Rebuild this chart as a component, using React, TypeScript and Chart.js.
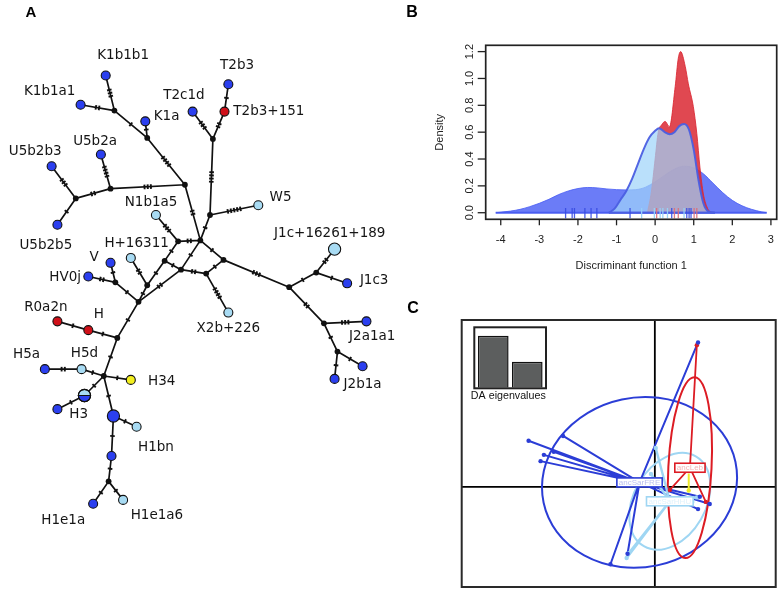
import React, { useEffect, useRef } from 'react';
import { Chart, registerables } from 'chart.js';

Chart.register(...registerables);

/* ================= Panel A : haplotype network ================= */
const NODE_IDS = [
  'K1b1b1', 'K1b1a1', 'K1a', 'T2b3', 'T2b3+151', 'T2c1d', 'U5b2a', 'U5b2b3', 'U5b2b5', 'W5',
  'N1b1a5', 'H+16311', 'V', 'HV0j', 'J1c+16261+189', 'J1c3', 'X2b+226', 'R0a2n', 'H', 'J2a1a1',
  'J2a', 'J2b1a', 'H5a', 'H5d', 'H34', 'H3', 'H3b', 'H1', 'H1bn', 'H1e1',
  'H1e1a', 'H1e1a6',
  'mv1', 'mv2', 'mv3', 'mv4', 'mv5', 'mv6', 'mv7', 'mv8', 'mv9', 'mv10',
  'mv11', 'mv12', 'mv13', 'mv14', 'mv15', 'mv16', 'mv17', 'mv18', 'mv19', 'mv20',
  'mv21', 'mv22', 'mv23',
];
const NODE_X = [
  102, 76, 143, 229, 225, 192, 97, 46, 52, 260,
  154, 128, 107, 84, 339, 352, 229, 52, 84, 372,
  368, 339, 39, 77, 128, 80, 52, 110, 134, 108,
  89, 120,
  111, 145, 184, 107, 71, 213, 210, 200, 177, 163,
  180, 145, 136, 206, 224, 292, 320, 328, 342, 112,
  114, 100, 105,
];
const NODE_Y = [
  70, 100, 117, 79, 107, 107, 151, 163, 223, 203,
  213, 257, 262, 276, 248, 283, 313, 322, 331, 322,
  368, 381, 371, 371, 382, 398, 412, 419, 430, 460,
  509, 505,
  106, 134, 182, 186, 196, 135, 213, 239, 240, 260,
  269, 285, 302, 273, 259, 287, 272, 324, 353, 282,
  339, 378, 486,
];
const NODE_TYPE = [
  'blue', 'blue', 'blue', 'blue', 'red', 'blue', 'blue', 'blue', 'blue', 'light',
  'light', 'light', 'blue', 'blue', 'light', 'blue', 'light', 'red', 'red', 'blue',
  'blue', 'blue', 'blue', 'light', 'yellow', 'split', 'blue', 'blue', 'light', 'blue',
  'blue', 'light',
  'median', 'median', 'median', 'median', 'median', 'median', 'median', 'median', 'median', 'median',
  'median', 'median', 'median', 'median', 'median', 'median', 'median', 'median', 'median', 'median',
  'median', 'median', 'median',
];
const NODE_FREQ = [
  1, 1, 1, 1, 1, 1, 1, 1, 1, 1,
  1, 1, 1, 1, 2, 1, 1, 1, 1, 1,
  1, 1, 1, 1, 1, 2, 1, 2, 1, 1,
  1, 1,
  0, 0, 0, 0, 0, 0, 0, 0, 0, 0,
  0, 0, 0, 0, 0, 0, 0, 0, 0, 0,
  0, 0, 0,
];

const EDGE_FROM = [
  'K1b1b1', 'K1b1a1', 'mv1', 'K1a', 'mv2', 'mv3', 'mv4', 'mv4', 'mv5', 'mv5',
  'mv3', 'T2b3', 'T2b3+151', 'T2c1d', 'mv6', 'mv7', 'mv7', 'mv8', 'mv9', 'mv9',
  'mv10', 'mv10', 'mv12', 'mv12', 'mv8', 'mv11', 'mv11', 'mv14', 'mv8', 'mv14',
  'mv15', 'mv16', 'mv17', 'mv17', 'mv16', 'mv18', 'mv18', 'mv19', 'mv19', 'mv20',
  'mv20', 'mv20', 'mv13', 'mv21', 'H', 'mv21', 'mv22', 'H5d', 'mv22', 'mv22',
  'H3', 'mv22', 'H1', 'H1', 'H1e1', 'mv23', 'mv23',
];
const EDGE_TO = [
  'mv1', 'mv1', 'mv2', 'mv2', 'mv3', 'mv4', 'U5b2a', 'mv5', 'U5b2b3', 'U5b2b5',
  'mv8', 'T2b3+151', 'mv6', 'mv6', 'mv7', 'W5', 'mv8', 'mv9', 'N1b1a5', 'mv10',
  'mv11', 'mv12', 'H+16311', 'mv13', 'mv11', 'mv13', 'mv14', 'mv15', 'mv15', 'X2b+226',
  'mv16', 'mv17', 'J1c+16261+189', 'J1c3', 'mv18', 'J2a1a1', 'mv19', 'J2a', 'J2b1a', 'HV0j',
  'V', 'mv13', 'mv21', 'H', 'R0a2n', 'mv22', 'H5d', 'H5a', 'H34', 'H3',
  'H3b', 'H1', 'H1bn', 'H1e1', 'mv23', 'H1e1a', 'H1e1a6',
];
const EDGE_MUT = [
  3, 2, 1, 1, 4, 3, 4, 2, 3, 1,
  2, 1, 2, 3, 4, 5, 1, 2, 3, 1,
  1, 1, 2, 1, 1, 2, 2, 1, 1, 4,
  3, 1, 2, 1, 2, 3, 1, 1, 1, 2,
  1, 1, 1, 1, 1, 1, 1, 2, 1, 1,
  1, 1, 1, 1, 1, 1, 1,
];

const LABEL_TEXT = [
  'K1b1b1', 'K1b1a1', 'K1a', 'T2b3', 'T2b3+151', 'T2c1d', 'U5b2a', 'U5b2b3', 'U5b2b5', 'W5',
  'N1b1a5', 'H+16311', 'V', 'HV0j', 'J1c+16261+189', 'J1c3', 'X2b+226', 'R0a2n', 'H', 'J2a1a1',
  'J2b1a', 'H5a', 'H5d', 'H34', 'H3', 'H1bn', 'H1e1a', 'H1e1a6',
];
// label anchor positions (layout, network coordinates)
const LABEL_X = [
  120, 44, 165, 238, 271, 183, 91, 29, 40, 283,
  149, 134, 90, 60, 334, 380, 229, 40, 95, 378,
  368, 20, 80, 160, 74, 154, 58, 155,
];
const LABEL_Y = [
  50, 86, 112, 60, 107, 91, 138, 148, 244, 195,
  200, 242, 257, 277, 232, 280, 329, 308, 315, 338,
  387, 356, 355, 384, 417, 451, 526, 521,
];

const NODE_FILL: Record<string, string> = {
  blue: '#2b3fef',
  light: '#a8dbf3',
  red: '#cf1019',
  yellow: '#f3ef1f',
  split: '#a8dbf3',
  median: '#111111',
};

/* ================= Panel B : density of discriminant function 1 ================= */
const BLUE_X = [-4.13, -3.75, -3.5, -3.25, -3.0, -2.75, -2.5, -2.25, -2.0, -1.75, -1.5, -1.25, -1.0, -0.75, -0.5, -0.25, 0, 0.25, 0.5, 0.75, 1.0, 1.25, 1.5, 1.75, 2.0, 2.25, 2.5, 2.75, 2.89];
const BLUE_Y = [0, 0.012, 0.025, 0.045, 0.07, 0.1, 0.135, 0.162, 0.18, 0.188, 0.185, 0.177, 0.172, 0.17, 0.172, 0.19, 0.23, 0.28, 0.325, 0.347, 0.335, 0.29, 0.22, 0.15, 0.092, 0.052, 0.025, 0.007, 0];
const LIGHT_X = [-1.2, -1.05, -0.9, -0.75, -0.6, -0.45, -0.3, -0.15, 0.0, 0.1, 0.25, 0.375, 0.5, 0.625, 0.75, 0.875, 1.0, 1.125, 1.25, 1.375, 1.55];
const LIGHT_Y = [0, 0.03, 0.095, 0.16, 0.25, 0.36, 0.47, 0.56, 0.61, 0.63, 0.6, 0.585, 0.6, 0.645, 0.66, 0.62, 0.47, 0.24, 0.07, 0.01, 0];
const RED_X = [-0.2, -0.1, 0.0, 0.08, 0.17, 0.26, 0.37, 0.52, 0.6, 0.66, 0.78, 0.86, 0.99, 1.08, 1.16, 1.25, 1.34, 1.42, 1.5];
const RED_Y = [0, 0.15, 0.4, 0.6, 0.655, 0.68, 0.64, 0.94, 1.15, 1.2, 1.09, 0.96, 0.79, 0.59, 0.34, 0.14, 0.045, 0.008, 0];

const RUG_BLUE = [-2.32, -2.15, -2.09, -1.82, -1.66, -1.51, -0.65, 0.43, 0.82, 0.88, 0.93];
const RUG_LIGHT = [-0.35, -0.02, 0.13, 0.2, 0.32, 0.75];
const RUG_RED = [0.04, 0.5, 0.6, 1.01, 1.08];

const DENS_X_TICKS = [-4, -3, -2, -1, 0, 1, 2, 3];
const DENS_Y_TICKS = [0, 0.2, 0.4, 0.6, 0.8, 1.0, 1.2];

/* ================= Panel C : DA scatter ================= */
const DA_GROUPS = ['ancSarFRE', 'ancSarHHU', 'ancLeb', ''];
const DA_CENT_X = [-0.51, 0.5, 1.17, 1.13];
const DA_CENT_Y = [0.15, -0.48, 0.64, 0.45];
const FRE_X = [-4.21, -3.06, -3.37, -3.7, -3.81, 1.44, -1.48, -0.91, 1.44, 1.83, 1.5];
const FRE_Y = [1.54, 1.7, 1.17, 1.07, 0.86, 4.82, -2.58, -2.23, -0.74, -0.57, -0.33];
const HHU_X = [0.03, -0.13, -0.94, -0.86, 1.25, 1.4];
const HHU_Y = [1.3, 0.43, -2.37, -2.2, -0.5, -0.35];
const LEB_X = [1.4, 0.5, 1.7];
const LEB_Y = [4.73, -0.1, -0.5];
const GRP4_X = [1.13];
const GRP4_Y = [-0.12];
const ELL_RX = [3.27, 1.73, 0.72, 0];
const ELL_RY = [2.83, 1.2, 3.02, 0];
const ELL_ANGLE = [12, 60, -3, 0];
const EIG_LABELS = ['LD1', 'LD2'];
const EIGENVALUES = [2.0, 1.0];

const DA_COLORS = ['#2b3dd6', '#9fd6f3', '#dc1c24', '#efea2c'];
const DA_TEXT = ['#b9bff0', '#dff2fc', '#f2b5b8', '#f7f4a0'];

/* ================= helpers ================= */
function nodePos(id: string) {
  const i = NODE_IDS.indexOf(id);
  return { x: NODE_X[i], y: NODE_Y[i] };
}

function ChartCanvas({ left, top, width, height, build }: any) {
  const ref = useRef<HTMLCanvasElement>(null);
  useEffect(() => {
    const chart = new Chart(ref.current as HTMLCanvasElement, build());
    return () => chart.destroy();
  }, []);
  return (
    <canvas
      ref={ref}
      width={width}
      height={height}
      style={{ position: 'absolute', left, top, width, height }}
    />
  );
}

const baseOptions = {
  responsive: false,
  animation: false,
  devicePixelRatio: 1,
  events: [],
  plugins: { legend: { display: false }, tooltip: { enabled: false }, title: { display: false } },
};

/* ---------- network ---------- */
function buildNetwork(): any {
  const edgeData: any[] = [];
  EDGE_FROM.forEach((f, i) => {
    edgeData.push(nodePos(f), nodePos(EDGE_TO[i]), { x: NaN, y: NaN });
  });
  const nodeData = NODE_IDS.map((_, i) => ({ x: NODE_X[i], y: NODE_Y[i] }));
  const radius = NODE_TYPE.map((t, i) => (t === 'median' ? 2.9 : NODE_FREQ[i] > 1 ? 6.1 : 4.5));
  const fill = NODE_TYPE.map((t) => NODE_FILL[t]);
  const bw = NODE_TYPE.map((t) => (t === 'median' ? 0 : 1.1));

  const decor = {
    id: 'networkDecor',
    afterDatasetDraw(chart: any, args: any) {
      if (chart.data.datasets[args.index].label !== 'edges') return;
      const { ctx } = chart;
      const sx = chart.scales.x, sy = chart.scales.y;
      ctx.save();
      ctx.strokeStyle = '#111';
      ctx.lineWidth = 1.9;
      EDGE_FROM.forEach((f, i) => {
        const a = nodePos(f), b = nodePos(EDGE_TO[i]);
        const ax = sx.getPixelForValue(a.x), ay = sy.getPixelForValue(a.y);
        const bx = sx.getPixelForValue(b.x), by = sy.getPixelForValue(b.y);
        const len = Math.hypot(bx - ax, by - ay);
        const ux = (bx - ax) / len, uy = (by - ay) / len;
        const px = -uy, py = ux;
        const mx = (ax + bx) / 2, my = (ay + by) / 2;
        const n = EDGE_MUT[i];
        const step = 3.2;
        for (let k = 0; k < n; k++) {
          const o = (k - (n - 1) / 2) * step;
          const cx = mx + ux * o, cy = my + uy * o;
          ctx.beginPath();
          ctx.moveTo(cx - px * 2.3, cy - py * 2.3);
          ctx.lineTo(cx + px * 2.3, cy + py * 2.3);
          ctx.stroke();
        }
      });
      ctx.restore();
    },
    afterDatasetsDraw(chart: any) {
      const { ctx } = chart;
      const sx = chart.scales.x, sy = chart.scales.y;
      ctx.save();
      // split node (H3): lower half blue
      NODE_TYPE.forEach((t, i) => {
        if (t !== 'split') return;
        const cx = sx.getPixelForValue(NODE_X[i]);
        const cy = sy.getPixelForValue(NODE_Y[i]);
        const r = 6.1;
        ctx.beginPath();
        ctx.arc(cx, cy, r, 0, Math.PI);
        ctx.closePath();
        ctx.fillStyle = NODE_FILL.blue;
        ctx.fill();
        ctx.lineWidth = 1.1;
        ctx.strokeStyle = '#111';
        ctx.stroke();
        ctx.beginPath();
        ctx.arc(cx, cy, r, 0, Math.PI * 2);
        ctx.stroke();
      });
      // labels
      ctx.fillStyle = '#151515';
      ctx.font = '13.5px "DejaVu Sans"';
      ctx.textAlign = 'center';
      ctx.textBaseline = 'middle';
      LABEL_TEXT.forEach((t, i) => {
        ctx.fillText(t, sx.getPixelForValue(LABEL_X[i]), sy.getPixelForValue(LABEL_Y[i]));
      });
      // panel letter
      ctx.font = 'bold 15px "Liberation Sans"';
      ctx.textBaseline = 'alphabetic';
      ctx.fillStyle = '#000';
      ctx.fillText('A', 31, 17);
      ctx.restore();
    },
  };

  return {
    type: 'scatter',
    data: {
      datasets: [
        {
          label: 'nodes',
          data: nodeData,
          pointRadius: radius,
          pointBackgroundColor: fill,
          pointBorderColor: '#111',
          pointBorderWidth: bw,
          showLine: false,
          order: 0,
        },
        {
          label: 'edges',
          data: edgeData,
          showLine: true,
          spanGaps: false,
          borderColor: '#111',
          borderWidth: 1.7,
          pointRadius: 0,
          order: 5,
        },
      ],
    },
    options: {
      ...baseOptions,
      layout: { padding: 0 },
      scales: {
        x: { type: 'linear', min: 0, max: 420, display: false },
        y: { type: 'linear', min: 0, max: 591, reverse: true, display: false },
      },
    },
    plugins: [decor],
  };
}

/* ---------- density ---------- */
function buildDensity(): any {
  const pts = (xs: number[], ys: number[]) => xs.map((x, i) => ({ x, y: ys[i] }));
  const decor = {
    id: 'densityDecor',
    afterDatasetsDraw(chart: any) {
      const { ctx, chartArea: ca } = chart;
      const sx = chart.scales.x, sy = chart.scales.y;
      const y0 = sy.getPixelForValue(0);
      ctx.save();
      // polygon baselines
      ctx.lineWidth = 2;
      ctx.strokeStyle = 'rgba(70,90,240,0.95)';
      ctx.beginPath();
      ctx.moveTo(sx.getPixelForValue(BLUE_X[0]), y0);
      ctx.lineTo(sx.getPixelForValue(BLUE_X[BLUE_X.length - 1]), y0);
      ctx.stroke();
      ctx.strokeStyle = 'rgba(75,95,225,0.95)';
      ctx.beginPath();
      ctx.moveTo(sx.getPixelForValue(LIGHT_X[0]), y0);
      ctx.lineTo(sx.getPixelForValue(LIGHT_X[LIGHT_X.length - 1]), y0);
      ctx.stroke();
      // rugs
      const rug = (vals: number[], col: string) => {
        ctx.strokeStyle = col;
        ctx.lineWidth = 1.3;
        vals.forEach((v) => {
          const x = sx.getPixelForValue(v);
          ctx.beginPath();
          ctx.moveTo(x, sy.getPixelForValue(0.035));
          ctx.lineTo(x, sy.getPixelForValue(-0.042));
          ctx.stroke();
        });
      };
      rug(RUG_BLUE, 'rgba(55,75,225,0.9)');
      rug(RUG_LIGHT, 'rgba(150,210,248,0.95)');
      rug(RUG_RED, 'rgba(222,110,120,0.9)');
      // box
      ctx.strokeStyle = '#222';
      ctx.lineWidth = 1.7;
      ctx.strokeRect(ca.left, ca.top, ca.right - ca.left, ca.bottom - ca.top);
      // ticks
      ctx.lineWidth = 1.3;
      ctx.fillStyle = '#222';
      ctx.font = '11px "Liberation Sans"';
      ctx.textAlign = 'center';
      ctx.textBaseline = 'middle';
      DENS_X_TICKS.forEach((v) => {
        const x = sx.getPixelForValue(v);
        ctx.beginPath();
        ctx.moveTo(x, ca.bottom);
        ctx.lineTo(x, ca.bottom + 6);
        ctx.stroke();
        ctx.fillText(String(v), x, 240);
      });
      DENS_Y_TICKS.forEach((v) => {
        const y = sy.getPixelForValue(v);
        ctx.beginPath();
        ctx.moveTo(ca.left, y);
        ctx.lineTo(ca.left - 8, y);
        ctx.stroke();
        ctx.save();
        ctx.translate(69.5, y);
        ctx.rotate(-Math.PI / 2);
        ctx.fillText(v.toFixed(1), 0, 0);
        ctx.restore();
      });
      // titles
      ctx.fillText('Discriminant function 1', (ca.left + ca.right) / 2, 266);
      ctx.save();
      ctx.translate(40, (ca.top + ca.bottom) / 2);
      ctx.rotate(-Math.PI / 2);
      ctx.fillText('Density', 0, 0);
      ctx.restore();
      // panel letter
      ctx.font = 'bold 16px "Liberation Sans"';
      ctx.textBaseline = 'alphabetic';
      ctx.fillStyle = '#000';
      ctx.fillText('B', 12, 17);
      ctx.restore();
    },
  };
  return {
    type: 'line',
    data: {
      datasets: [
        {
          label: 'group 1',
          data: pts(BLUE_X, BLUE_Y),
          fill: 'origin',
          backgroundColor: 'rgba(75,95,245,0.82)',
          borderColor: 'rgba(75,95,245,0.85)',
          borderWidth: 1,
          pointRadius: 0,
          cubicInterpolationMode: 'monotone',
          order: 3,
        },
        {
          label: 'group 3',
          data: pts(RED_X, RED_Y),
          fill: 'origin',
          backgroundColor: 'rgba(218,40,50,0.85)',
          borderColor: 'rgba(218,40,50,0.85)',
          borderWidth: 1,
          pointRadius: 0,
          cubicInterpolationMode: 'monotone',
          order: 2,
        },
        {
          label: 'group 2',
          data: pts(LIGHT_X, LIGHT_Y),
          fill: 'origin',
          backgroundColor: 'rgba(160,212,250,0.72)',
          borderColor: 'rgba(75,95,225,0.95)',
          borderWidth: 2,
          pointRadius: 0,
          cubicInterpolationMode: 'monotone',
          order: 1,
        },
      ],
    },
    options: {
      ...baseOptions,
      layout: { padding: { left: 85.7, right: 3.3, top: 45.3, bottom: 80.7 } },
      scales: {
        x: { type: 'linear', min: -4.39, max: 3.15, display: false },
        y: { type: 'linear', min: -0.049, max: 1.247, display: false },
      },
    },
    plugins: [decor],
  };
}

/* ---------- DA scatter ---------- */
function buildDA(): any {
  const groupsX = [FRE_X, HHU_X, LEB_X, GRP4_X];
  const groupsY = [FRE_Y, HHU_Y, LEB_Y, GRP4_Y];
  const widths = [2, 2.4, 1.8, 2];
  const datasets: any[] = [];
  groupsX.forEach((xs, g) => {
    const star: any[] = [];
    xs.forEach((x, i) => {
      star.push({ x: DA_CENT_X[g], y: DA_CENT_Y[g] }, { x, y: groupsY[g][i] }, { x: NaN, y: NaN });
    });
    datasets.push({
      label: DA_GROUPS[g] + ' star',
      data: star,
      showLine: true,
      spanGaps: false,
      borderColor: DA_COLORS[g],
      borderWidth: widths[g],
      pointRadius: 0,
      order: 10 - g,
    });
  });
  groupsX.forEach((xs, g) => {
    datasets.push({
      label: DA_GROUPS[g] + ' points',
      data: xs.map((x, i) => ({ x, y: groupsY[g][i] })),
      pointRadius: 2.2,
      pointBackgroundColor: DA_COLORS[g],
      pointBorderWidth: 0,
      showLine: false,
      order: 1,
    });
  });

  const decor = {
    id: 'daDecor',
    beforeDatasetsDraw(chart: any) {
      const { ctx, chartArea: ca } = chart;
      const sx = chart.scales.x, sy = chart.scales.y;
      ctx.save();
      ctx.strokeStyle = '#000';
      ctx.lineWidth = 1.8;
      const x0 = sx.getPixelForValue(0), y0 = sy.getPixelForValue(0);
      ctx.beginPath();
      ctx.moveTo(x0, ca.top);
      ctx.lineTo(x0, ca.bottom);
      ctx.moveTo(ca.left, y0);
      ctx.lineTo(ca.right, y0);
      ctx.stroke();
      ELL_RX.forEach((rx, g) => {
        if (!rx) return;
        const cx = sx.getPixelForValue(DA_CENT_X[g]);
        const cy = sy.getPixelForValue(DA_CENT_Y[g]);
        const rxp = Math.abs(sx.getPixelForValue(rx) - sx.getPixelForValue(0));
        const ryp = Math.abs(sy.getPixelForValue(ELL_RY[g]) - sy.getPixelForValue(0));
        ctx.beginPath();
        ctx.ellipse(cx, cy, rxp, ryp, (-ELL_ANGLE[g] * Math.PI) / 180, 0, Math.PI * 2);
        ctx.strokeStyle = DA_COLORS[g];
        ctx.lineWidth = 2;
        ctx.stroke();
      });
      ctx.restore();
    },
    afterDatasetsDraw(chart: any) {
      const { ctx, chartArea: ca } = chart;
      const sx = chart.scales.x, sy = chart.scales.y;
      ctx.save();
      ctx.font = '8px "Liberation Sans"';
      ctx.textAlign = 'center';
      ctx.textBaseline = 'middle';
      DA_GROUPS.forEach((name, g) => {
        if (!name) return;
        const cx = sx.getPixelForValue(DA_CENT_X[g]);
        const cy = sy.getPixelForValue(DA_CENT_Y[g]);
        const w = ctx.measureText(name).width + 4;
        const h = 9;
        ctx.fillStyle = '#fff';
        ctx.fillRect(cx - w / 2, cy - h / 2, w, h);
        ctx.strokeStyle = DA_COLORS[g];
        ctx.lineWidth = 1.6;
        ctx.strokeRect(cx - w / 2, cy - h / 2, w, h);
        ctx.fillStyle = DA_TEXT[g];
        ctx.fillText(name, cx, cy + 0.5);
      });
      ctx.strokeStyle = '#2a2a2a';
      ctx.lineWidth = 2;
      ctx.strokeRect(ca.left, ca.top, ca.right - ca.left, ca.bottom - ca.top);
      ctx.font = 'bold 16px "Liberation Sans"';
      ctx.textBaseline = 'alphabetic';
      ctx.fillStyle = '#000';
      ctx.fillText('C', 13, 13);
      ctx.restore();
    },
  };

  return {
    type: 'scatter',
    data: { datasets },
    options: {
      ...baseOptions,
      layout: { padding: { left: 61.7, right: 4.3, top: 20, bottom: 3.7 } },
      scales: {
        x: { type: 'linear', min: -6.44, max: 4.03, display: false },
        y: { type: 'linear', min: -3.34, max: 5.57, display: false },
      },
    },
    plugins: [decor],
  };
}

/* ---------- eigenvalue inset ---------- */
function buildEigen(): any {
  const decor = {
    id: 'eigDecor',
    afterDatasetsDraw(chart: any) {
      const { ctx } = chart;
      ctx.save();
      ctx.strokeStyle = '#222';
      ctx.lineWidth = 2;
      ctx.strokeRect(10.3, 2.3, 71.7, 61);
      ctx.fillStyle = '#111';
      ctx.font = '10.7px "Liberation Sans"';
      ctx.textAlign = 'center';
      ctx.textBaseline = 'middle';
      ctx.fillText('DA eigenvalues', 44.3, 71);
      ctx.restore();
    },
  };
  return {
    type: 'bar',
    data: {
      labels: EIG_LABELS,
      datasets: [
        {
          data: EIGENVALUES,
          backgroundColor: '#5c5e5e',
          borderColor: '#111',
          borderWidth: 1.5,
          barPercentage: 0.9,
          categoryPercentage: 1,
        },
      ],
    },
    options: {
      ...baseOptions,
      layout: { padding: { left: 12.3, right: 9.7, top: 4.3, bottom: 17.3 } },
      scales: {
        x: { display: false },
        y: { display: false, min: 0, max: 2.246 },
      },
    },
    plugins: [decor],
  };
}

export default function App() {
  return (
    <div
      style={{
        position: 'absolute',
        left: 0,
        top: 0,
        width: 780,
        height: 591,
        background: '#ffffff',
        overflow: 'hidden',
      }}
    >
      <ChartCanvas left={0} top={0} width={420} height={591} build={buildNetwork} />
      <ChartCanvas left={400} top={0} width={380} height={300} build={buildDensity} />
      <ChartCanvas left={400} top={300} width={380} height={291} build={buildDA} />
      <ChartCanvas left={464} top={325} width={90} height={80} build={buildEigen} />
    </div>
  );
}
